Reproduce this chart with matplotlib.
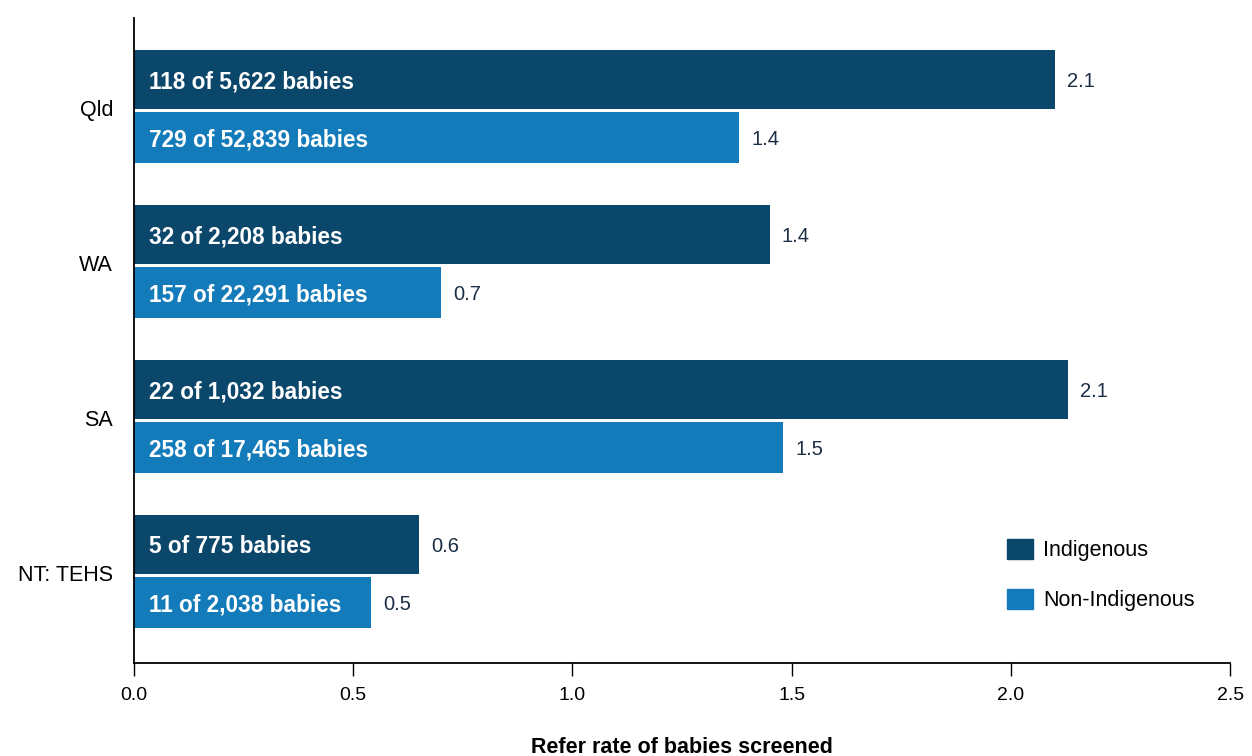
import numpy as np
import matplotlib
matplotlib.use('Agg')
import matplotlib.pyplot as plt
from matplotlib.patches import Patch

plt.rcParams['font.family'] = ['Liberation Sans', 'DejaVu Sans']

# data
states = ['Qld', 'WA', 'SA', 'NT: TEHS']
indig_rate = [2.10, 1.45, 2.13, 0.65]
nonindig_rate = [1.38, 0.70, 1.48, 0.54]
indig_label = ['2.1', '1.4', '2.1', '0.6']
nonindig_label = ['1.4', '0.7', '1.5', '0.5']
indig_text = ['118 of 5,622 babies', '32 of 2,208 babies',
              '22 of 1,032 babies', '5 of 775 babies']
nonindig_text = ['729 of 52,839 babies', '157 of 22,291 babies',
                 '258 of 17,465 babies', '11 of 2,038 babies']

dark = '#0B466B'
light = '#147BBA'
val_col = '#1B2E45'

fig = plt.figure(figsize=(12.52, 7.56), dpi=100)
ax = fig.add_axes([0.107, 0.123, 0.8755, 0.853])

y = np.arange(len(states))
ax.barh(y - 0.185, indig_rate, height=0.38, color=dark, label='Indigenous')
ax.barh(y + 0.19, nonindig_rate, height=0.33, color=light, label='Non-Indigenous')

for i in range(len(states)):
    ax.text(0.035, y[i] - 0.185, indig_text[i], color='white', fontsize=16.3,
            fontweight='bold', va='center_baseline', ha='left')
    ax.text(0.035, y[i] + 0.19, nonindig_text[i], color='white', fontsize=16.3,
            fontweight='bold', va='center_baseline', ha='left')
    ax.text(indig_rate[i] + 0.028, y[i] - 0.17, indig_label[i], color=val_col,
            fontsize=14.5, va='center', ha='left')
    ax.text(nonindig_rate[i] + 0.028, y[i] + 0.2, nonindig_label[i], color=val_col,
            fontsize=14.5, va='center', ha='left')

ax.set_ylim(3.58, -0.58)
ax.set_xlim(0, 2.5)
ax.set_yticks(y)
ax.set_yticklabels(states, fontsize=15.5)
ax.tick_params(axis='y', length=0, pad=15)
ax.set_xticks([0, 0.5, 1.0, 1.5, 2.0, 2.5])
ax.set_xticklabels(['0.0', '0.5', '1.0', '1.5', '2.0', '2.5'], fontsize=14)
ax.tick_params(axis='x', length=9, width=1, pad=8)
ax.spines['top'].set_visible(False)
ax.spines['right'].set_visible(False)
ax.spines['left'].set_linewidth(1.3)
ax.spines['bottom'].set_linewidth(1.3)
ax.set_xlabel('Refer rate of babies screened', fontsize=15.5, fontweight='bold', labelpad=24)

handles = [Patch(color=dark, label='Indigenous'), Patch(color=light, label='Non-Indigenous')]
ax.legend(handles=handles, loc='lower right', bbox_to_anchor=(0.985, 0.05), frameon=False,
          fontsize=15.5, handlelength=1.2, handleheight=1.05, labelspacing=1.3, handletextpad=0.45)

fig.savefig('out.png', dpi=100)
